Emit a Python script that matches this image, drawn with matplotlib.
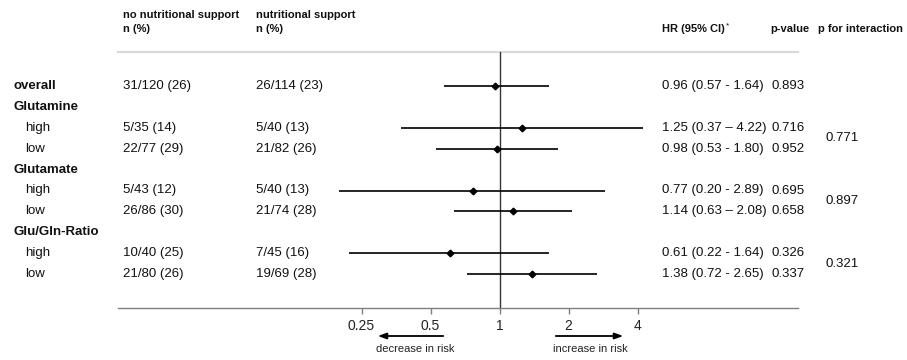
import matplotlib
matplotlib.use('Agg')
import matplotlib.pyplot as plt
import matplotlib.transforms as mtransforms
import numpy as np

plt.rcParams['font.family'] = ['Liberation Sans', 'DejaVu Sans']

# rows of the table, top to bottom
labels = ['overall', 'Glutamine', 'high', 'low', 'Glutamate', 'high', 'low',
          'Glu/Gln-Ratio', 'high', 'low']
is_group = [True, True, False, False, True, False, False, True, False, False]
no_support = ['31/120 (26)', '', '5/35 (14)', '22/77 (29)', '', '5/43 (12)', '26/86 (30)',
              '', '10/40 (25)', '21/80 (26)']
support = ['26/114 (23)', '', '5/40 (13)', '21/82 (26)', '', '5/40 (13)', '21/74 (28)',
           '', '7/45 (16)', '19/69 (28)']
hr = [0.96, None, 1.25, 0.98, None, 0.77, 1.14, None, 0.61, 1.38]
ci_low = [0.57, None, 0.37, 0.53, None, 0.20, 0.63, None, 0.22, 0.72]
ci_high = [1.64, None, 4.22, 1.80, None, 2.89, 2.08, None, 1.64, 2.65]
hr_text = ['0.96 (0.57 - 1.64)', '', '1.25 (0.37 \u2013 4.22)', '0.98 (0.53 - 1.80)', '',
           '0.77 (0.20 - 2.89)', '1.14 (0.63 \u2013 2.08)', '', '0.61 (0.22 - 1.64)',
           '1.38 (0.72 - 2.65)']
p_values = ['0.893', '', '0.716', '0.952', '', '0.695', '0.658', '', '0.326', '0.337']
# p for interaction, placed between the two subgroup rows
p_inter = ['0.771', '0.897', '0.321']
p_inter_rows = [2.5, 5.5, 8.5]
ticks = [0.25, 0.5, 1, 2, 4]
tick_labels = ['0.25', '0.5', '1', '2', '4']

W, H = 907, 360
fig = plt.figure(figsize=(W / 100, H / 100), dpi=100)

# forest axes: x from 118 to 798 px, y from 52 to 308 px (from top)
x0, x1, ytop, ybot = 118, 798, 52, 308
ax = fig.add_axes([x0 / W, 1 - ybot / H, (x1 - x0) / W, (ybot - ytop) / H])
ax.set_xscale('log', base=2)
px_per_doubling = 69.0
one_px = 499.5
ax.set_xlim(2 ** ((x0 - one_px) / px_per_doubling), 2 ** ((x1 - one_px) / px_per_doubling))
row0, row_step = 86.0, 20.9
ax.set_ylim((ybot - row0) / row_step, (ytop - row0) / row_step)

for s in ['top', 'right', 'left']:
    ax.spines[s].set_visible(False)
ax.spines['bottom'].set_color('#7f7f7f')
ax.spines['bottom'].set_linewidth(1.0)
ax.set_yticks([])
ax.set_xticks(ticks)
ax.set_xticklabels(tick_labels)
ax.xaxis.set_minor_locator(matplotlib.ticker.NullLocator())
ax.tick_params(axis='x', direction='out', length=4, width=1, color='#7f7f7f',
               labelsize=10, pad=4, labelcolor='#222222')

# header rule
ax.axhline(ax.get_ylim()[1], color='#d9d9d9', lw=1.5, clip_on=False)
# reference line at 1
ax.axvline(1, color='#333333', lw=1.0)

for i in range(len(labels)):
    if hr[i] is None:
        continue
    ax.plot([ci_low[i], ci_high[i]], [i, i], color='black', lw=1.2, solid_capstyle='butt')
    ax.plot(hr[i], i, marker='D', ms=3.4, color='black')

trans = mtransforms.blended_transform_factory(fig.transFigure, ax.transData)
txt_kw = dict(transform=trans, va='center', ha='left', fontsize=9.5, color='#111111')
for i in range(len(labels)):
    if is_group[i]:
        ax.text(13 / W, i, labels[i], fontweight='bold', **txt_kw)
    else:
        ax.text(25 / W, i, labels[i], **txt_kw)
    ax.text(123 / W, i, no_support[i], **txt_kw)
    ax.text(256 / W, i, support[i], **txt_kw)
    ax.text(662 / W, i, hr_text[i], **txt_kw)
    ax.text(771 / W, i, p_values[i], **txt_kw)
for r, p in zip(p_inter_rows, p_inter):
    ax.text(826 / W, r, p, **txt_kw)

# column headers
hd = dict(ha='left', va='center', fontsize=8, fontweight='bold', color='#111111')
fig.text(123 / W, 1 - 15 / H, 'no nutritional support', **hd)
fig.text(123 / W, 1 - 29 / H, 'n (%)', **hd)
fig.text(256 / W, 1 - 15 / H, 'nutritional support', **hd)
fig.text(256 / W, 1 - 29 / H, 'n (%)', **hd)
fig.text(662 / W, 1 - 29 / H, 'HR (95% CI)', **hd)
fig.text(726 / W, 1 - 26 / H, '*', ha='left', va='center', fontsize=6, color='#111111')
fig.text(770 / W, 1 - 29 / H, 'p-value', **hd)
fig.text(818 / W, 1 - 29 / H, 'p for interaction', **hd)

# risk arrows
arr = dict(arrowstyle='-|>,head_length=0.5,head_width=0.18', color='black', lw=1.3)
fig.patches.append(matplotlib.patches.FancyArrowPatch(
    (446 / W, 1 - 336 / H), (375 / W, 1 - 336 / H), transform=fig.transFigure,
    mutation_scale=10, **arr))
fig.patches.append(matplotlib.patches.FancyArrowPatch(
    (553 / W, 1 - 336 / H), (626 / W, 1 - 336 / H), transform=fig.transFigure,
    mutation_scale=10, **arr))
fig.text(415 / W, 1 - 349 / H, 'decrease in risk', ha='center', va='center', fontsize=8,
         color='#222222')
fig.text(590 / W, 1 - 349 / H, 'increase in risk', ha='center', va='center', fontsize=8,
         color='#222222')

fig.savefig('out.png', dpi=100)
